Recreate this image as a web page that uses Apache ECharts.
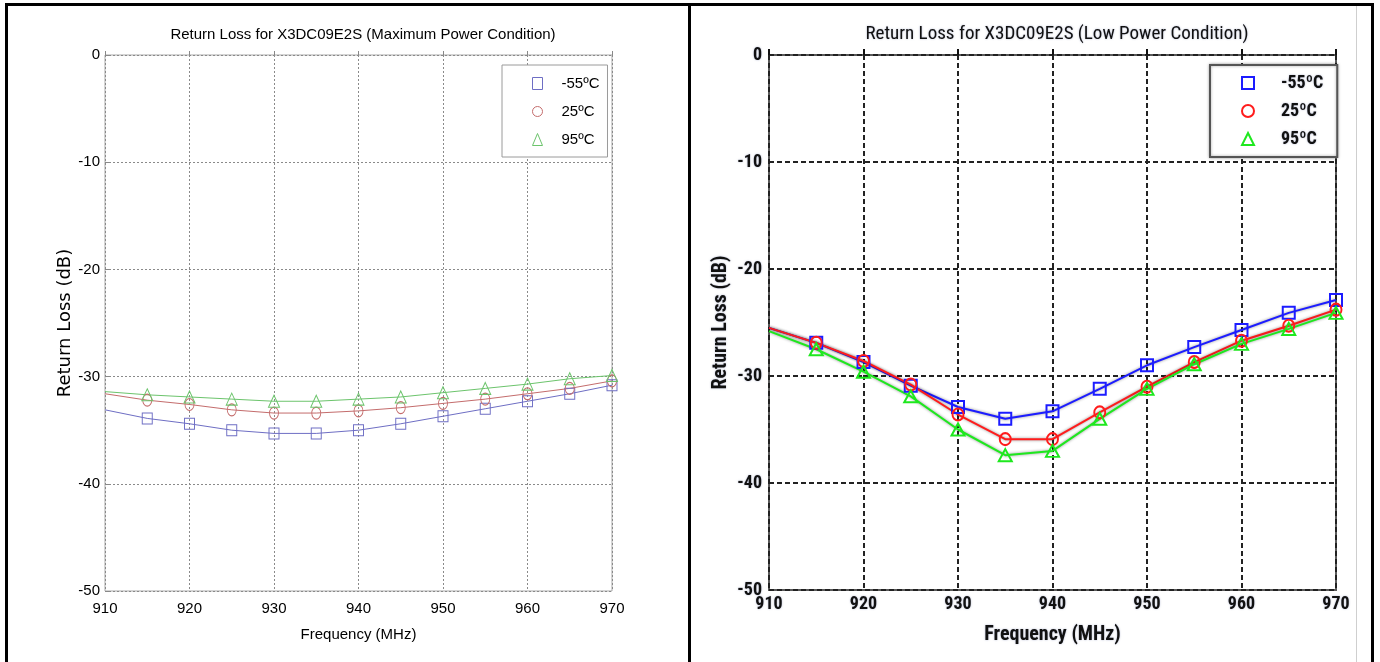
<!DOCTYPE html>
<html><head><meta charset="utf-8">
<script src="https://cdn.jsdelivr.net/npm/echarts@6/dist/echarts.min.js"></script>
<style>
html,body{margin:0;padding:0;background:#fff;overflow:hidden;}
#chart{position:absolute;left:0;top:0;width:1380px;height:662px;}
.b{position:absolute;background:#000;}
</style></head><body>
<div id="chart"></div>
<div class="b" style="left:5px;top:3px;width:1369px;height:3px"></div>
<div class="b" style="left:5px;top:3px;width:3px;height:659px"></div>
<div class="b" style="left:688px;top:3px;width:3px;height:659px"></div>
<div class="b" style="left:1371px;top:3px;width:3px;height:659px"></div>
<div class="b" style="left:1356px;top:6px;width:1px;height:656px;background:#cfcfcf"></div>
<script>
// ---------- data ----------
const freqs = [910, 915, 920, 925, 930, 935, 940, 945, 950, 955, 960, 965, 970];
const tempLabels = ['-55ºC', '25ºC', '95ºC'];
const titleMax = 'Return Loss for X3DC09E2S (Maximum Power Condition)';
const titleLow = 'Return Loss for X3DC09E2S (Low Power Condition)';
const xName = 'Frequency (MHz)';
const yName = 'Return Loss (dB)';
// Maximum power condition
const maxM55 = [-33.1, -33.9, -34.4, -35.0, -35.3, -35.3, -35.0, -34.4, -33.7, -33.0, -32.3, -31.6, -30.8];
const max25  = [-31.6, -32.2, -32.6, -33.1, -33.4, -33.4, -33.2, -32.9, -32.5, -32.1, -31.6, -31.1, -30.4];
const max95  = [-31.4, -31.7, -31.9, -32.1, -32.3, -32.3, -32.1, -31.9, -31.5, -31.1, -30.7, -30.2, -29.9];
// Low power condition
const lowM55 = [-25.5, -26.9, -28.7, -30.9, -32.9, -34.0, -33.3, -31.2, -29.0, -27.3, -25.7, -24.1, -22.9];
const low25  = [-25.5, -26.9, -28.6, -30.8, -33.6, -35.9, -35.9, -33.4, -31.0, -28.7, -26.7, -25.3, -23.8];
const low95  = [-25.8, -27.5, -29.6, -31.9, -35.0, -37.4, -37.0, -34.0, -31.2, -28.9, -27.0, -25.6, -24.1];

// ---------- styling ----------
const FONT = "'Liberation Sans', Arial, sans-serif";
const NARROW = "'Liberation Sans Narrow', 'Arial Narrow', 'Roboto Condensed', 'Liberation Sans', sans-serif";
const leftColors = ['#6e6ec4', '#c46c6c', '#6cc46c'];
const rightColors = ['#1c1cff', '#ff1c1c', '#1ee81e'];
const symbols = ['rect', 'circle', 'triangle'];
const shadowTxt = {textShadowColor: 'rgba(110,120,170,0.55)', textShadowBlur: 2};

function mkSeries(name, vals, color, symbol, size, lw, bw, idx, extra) {
  return Object.assign({
    type: 'line', name: name, xAxisIndex: idx, yAxisIndex: idx,
    data: freqs.map((f, i) => i === 0 ? {value: [f, vals[i]], symbol: 'none'} : [f, vals[i]]),
    symbol: symbol, symbolSize: size, showAllSymbol: true,
    lineStyle: {color: color, width: lw},
    itemStyle: {color: 'rgba(255,255,255,0)', borderColor: color, borderWidth: bw},
    emphasis: {disabled: true}, animation: false
  }, extra || {});
}

const leftNames = ['Lm55', 'L25', 'L95'];
const rightNames = ['Rm55', 'R25', 'R95'];
const nameMap = {};
leftNames.forEach((n, i) => nameMap[n] = tempLabels[i]);
rightNames.forEach((n, i) => nameMap[n] = tempLabels[i]);

const leftVals = [maxM55, max25, max95];
const rightVals = [lowM55, low25, low95];
const leftSizes = [[10, 11], [9, 12], [11, 12]];
const rightSizes = [[12, 12], [11, 12], [13, 12]];

const series = [];
leftVals.forEach((v, i) => series.push(mkSeries(leftNames[i], v, leftColors[i], symbols[i], leftSizes[i], 1, 1, 0)));
rightVals.forEach((v, i) => series.push(mkSeries(rightNames[i], v, rightColors[i], symbols[i], rightSizes[i], 2, 2, 1, {
  lineStyle: {color: rightColors[i], width: 2, shadowColor: 'rgba(0,0,0,0.45)', shadowBlur: 3}
})));

const leftAxisLabel = {fontSize: 15, color: '#000', fontFamily: FONT};
const rightAxisLabel = Object.assign({fontSize: 18, fontWeight: 'bold', color: '#111', fontFamily: NARROW}, shadowTxt);

const option = {
  animation: false,
  backgroundColor: '#fff',
  title: [
    {text: titleMax, left: 358, top: 22, textAlign: 'center',
     textStyle: {fontSize: 15, fontWeight: 'normal', color: '#000', fontFamily: FONT}},
    {text: titleLow, left: 1052, top: 20, textAlign: 'center',
     textStyle: Object.assign({fontSize: 19, fontWeight: 'normal', color: '#111', fontFamily: NARROW}, shadowTxt)}
  ],
  grid: [
    {left: 105, top: 55, width: 507, height: 536, show: true, borderColor: '#a8a8a8', borderWidth: 1, backgroundColor: '#fff'},
    {left: 769, top: 55, width: 567, height: 535, show: true, borderColor: '#5a5a5a', borderWidth: 2, backgroundColor: '#fff'}
  ],
  xAxis: [
    {type: 'value', gridIndex: 0, min: 910, max: 970, interval: 10,
     name: xName, nameLocation: 'middle', nameGap: 36,
     nameTextStyle: {fontSize: 15, color: '#000', fontFamily: FONT},
     axisLine: {show: false}, axisTick: {show: true, inside: true, length: 4, lineStyle: {color: '#888'}},
     axisLabel: Object.assign({margin: 10}, leftAxisLabel),
     splitLine: {show: true, lineStyle: {color: '#8a8a8a', width: 1, type: [2, 2]}}},
    {type: 'value', gridIndex: 1, min: 910, max: 970, interval: 10,
     name: xName, nameLocation: 'middle', nameGap: 35,
     nameTextStyle: Object.assign({fontSize: 20, fontWeight: 'bold', color: '#111', fontFamily: NARROW}, shadowTxt),
     axisLine: {show: false}, axisTick: {show: true, inside: true, length: 6, lineStyle: {color: '#111', width: 2}},
     axisLabel: Object.assign({margin: 5}, rightAxisLabel),
     splitLine: {show: true, lineStyle: {color: '#222', width: 2, type: [5, 3]}}}
  ],
  yAxis: [
    {type: 'value', gridIndex: 0, min: -50, max: 0, interval: 10,
     name: yName, nameLocation: 'middle', nameGap: 30,
     nameTextStyle: {fontSize: 18, color: '#000', fontFamily: "'DejaVu Sans', sans-serif"},
     axisLine: {show: false}, axisTick: {show: true, inside: true, length: 4, lineStyle: {color: '#888'}},
     axisLabel: Object.assign({margin: 5}, leftAxisLabel),
     splitLine: {show: true, lineStyle: {color: '#8a8a8a', width: 1, type: [2, 2]}}},
    {type: 'value', gridIndex: 1, min: -50, max: 0, interval: 10,
     name: yName, nameLocation: 'middle', nameGap: 38,
     nameTextStyle: Object.assign({fontSize: 20, fontWeight: 'bold', color: '#111', fontFamily: NARROW}, shadowTxt),
     axisLine: {show: false}, axisTick: {show: false},
     axisLabel: Object.assign({margin: 7}, rightAxisLabel),
     splitLine: {show: true, lineStyle: {color: '#222', width: 2, type: [5, 3]}}}
  ],
  legend: [
    {left: 502, top: 65, orient: 'vertical', padding: [11, 8, 10, 30],
     itemWidth: 10, itemHeight: 12, itemGap: 13,
     backgroundColor: '#fff', borderColor: '#9a9a9a', borderWidth: 1,
     textStyle: {fontSize: 15, color: '#000', fontFamily: FONT, padding: [0, 0, 0, 14]},
     formatter: n => nameMap[n], selectedMode: false,
     data: leftNames.map((n, i) => ({name: n, icon: symbols[i],
       itemStyle: {color: 'rgba(255,255,255,0)', borderColor: leftColors[i], borderWidth: 1}}))},
    {left: 1210, top: 65, orient: 'vertical', padding: [9, 14, 9, 31],
     itemWidth: 12, itemHeight: 12, itemGap: 10,
     backgroundColor: '#fff', borderColor: '#555', borderWidth: 2,
     shadowColor: 'rgba(0,0,0,0.35)', shadowBlur: 3,
     textStyle: Object.assign({fontSize: 18, fontWeight: 'bold', color: '#111', fontFamily: NARROW, padding: [0, 0, 0, 22]}, shadowTxt),
     formatter: n => nameMap[n], selectedMode: false,
     data: rightNames.map((n, i) => ({name: n, icon: symbols[i],
       itemStyle: {color: 'rgba(255,255,255,0)', borderColor: rightColors[i], borderWidth: 2}}))}
  ],
  series: series
};

const chart = echarts.init(document.getElementById('chart'), null, {renderer: 'canvas'});
chart.setOption(option);
</script>
</body></html>
